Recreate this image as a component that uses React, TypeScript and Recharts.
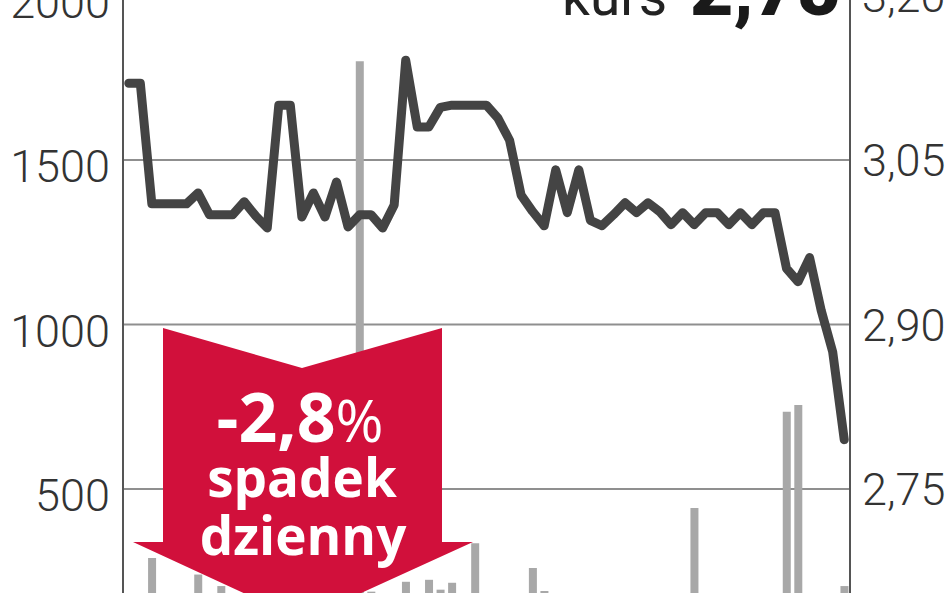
import { ComposedChart, Bar, Line, XAxis, YAxis, CartesianGrid } from "recharts";

// kurs (zł) – sesje od lewej do prawej
const price = [
  3.12, 3.12, 3.01, 3.01, 3.01, 3.01, 3.02, 3.0, 3.0, 3.0,
  3.012, 2.999, 2.988, 3.1, 3.1, 2.998, 3.02, 2.998, 3.03, 2.989,
  3.0, 3.0, 2.988, 3.009, 3.141, 3.08, 3.08, 3.098, 3.1, 3.1,
  3.1, 3.1, 3.088, 3.068, 3.018, 3.003, 2.99, 3.041, 3.002, 3.041,
  2.995, 2.99, 3.0, 3.011, 3.002, 3.011, 3.003, 2.991, 3.002, 2.991,
  3.002, 3.002, 2.991, 3.002, 2.991, 3.002, 3.002, 2.951, 2.939, 2.961,
  2.913, 2.875, 2.795,
];

// obrót (tys. zł)
const volume = [
  150, 120, 290, 140, 100, 130, 240, 150, 205, 110,
  160, 90, 120, 170, 140, 100, 130, 110, 150, 120,
  1800, 188, 170, 140, 218, 170, 224, 194, 215, 150,
  335, 120, 90, 110, 140, 260, 190, 130, 110, 160,
  120, 100, 80, 130, 90, 110, 70, 120, 150, 442,
  130, 100, 120, 90, 110, 140, 160, 735, 755, 170,
  150, 160, 205,
];

const sessions = price.map((_, i) => `${i + 1}`);

// widoczne podziałki (0 i 2,60 leżą poniżej kadru)
const volumeTicks = [500, 1000, 1500, 2000];
const priceTicks = [2.75, 2.9, 3.05, 3.2];

const data = sessions.map((s, i) => ({ session: s, price: price[i], vol: volume[i] }));

const axisFont = "Roboto, 'Noto Sans', sans-serif";

const LeftTick = (props: any) => {
  const { x, y, payload } = props;
  return (
    <text x={x} y={y} dy={22} textAnchor="end" fontFamily={axisFont} fontWeight={300} fontSize={45} fill="#333">
      {payload.value}
    </text>
  );
};

const RightTick = (props: any) => {
  const { x, y, payload } = props;
  return (
    <text x={x} y={y} dy={16} textAnchor="start" fontFamily={axisFont} fontWeight={300} fontSize={45} fill="#333">
      {Number(payload.value).toFixed(2).replace(".", ",")}
    </text>
  );
};

export default function App() {
  return (
    <div
      style={{
        position: "absolute",
        left: 0,
        top: 0,
        width: 948,
        height: 593,
        overflow: "hidden",
        background: "#fff",
      }}
    >
      <div style={{ position: "absolute", left: 0, top: -20 }}>
        <ComposedChart
          width={948}
          height={684}
          data={data}
          margin={{ top: 15.5, right: 0, bottom: 10.5, left: 0 }}
        >
          <CartesianGrid yAxisId="vol" vertical={false} stroke="#8f8f8f" strokeWidth={2} />
          <XAxis dataKey="session" hide height={0} />
          <YAxis
            yAxisId="vol"
            orientation="left"
            width={123}
            domain={[0, 2000]}
            ticks={volumeTicks}
            tick={<LeftTick />}
            tickLine={false}
            tickMargin={7}
            axisLine={{ stroke: "#555", strokeWidth: 2 }}
            interval={0}
          />
          <YAxis
            yAxisId="price"
            orientation="right"
            width={98}
            domain={[2.6, 3.2]}
            ticks={priceTicks}
            tick={<RightTick />}
            tickLine={false}
            tickMargin={6}
            axisLine={{ stroke: "#555", strokeWidth: 2 }}
            interval={0}
          />
          <Bar yAxisId="vol" dataKey="vol" fill="#a8a8a8" barSize={8} isAnimationActive={false} />
          <Line
            yAxisId="price"
            dataKey="price"
            type="linear"
            stroke="#444"
            strokeWidth={9}
            strokeLinejoin="round"
            strokeLinecap="round"
            dot={false}
            activeDot={false}
            isAnimationActive={false}
          />
        </ComposedChart>
      </div>
      <svg
        width={948}
        height={593}
        style={{ position: "absolute", left: 0, top: 0, pointerEvents: "none" }}
      >
        <text x={562} y={15} fontFamily={axisFont} fontWeight={400} fontSize={55} fill="#222">
          kurs
        </text>
        <text x={690} y={15} fontFamily={axisFont} fontWeight={900} fontSize={75} fill="#1a1a1a">
          2,75
        </text>
        <polygon
          points="163,328 302,368 442,328 442,542 473,542 302,620 133,542 163,542"
          fill="#d1103b"
        />
        <g fontFamily="'Open Sans', sans-serif" fill="#fff" textAnchor="middle">
          <text x={300} y={442} fontWeight={700} fontSize={68}>
            -2,8<tspan fontWeight={400} fontSize={58}>%</tspan>
          </text>
          <text x={302} y={497} fontWeight={700} fontSize={53}>
            spadek
          </text>
          <text x={303} y={555} fontWeight={700} fontSize={53}>
            dzienny
          </text>
        </g>
      </svg>
    </div>
  );
}
